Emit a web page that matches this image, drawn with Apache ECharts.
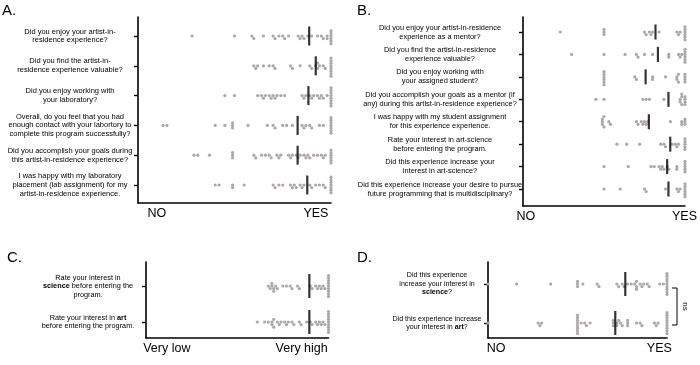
<!DOCTYPE html>
<html><head><meta charset="utf-8">
<script src="https://cdn.jsdelivr.net/npm/echarts@6/dist/echarts.min.js"></script>
<style>html,body{margin:0;padding:0;background:#fff}#c{width:700px;height:365px}</style>
</head><body><div id="c"></div>
<script>
// ---------------- DATA ----------------
const questionsA = [
  "Did you enjoy your artist-in-\nresidence experience?",
  "Did you find the artist-in-\nresidence experience valuable?",
  "Did you enjoy working with\nyour laboratory?",
  "Overall, do you feel that you had\nenough contact with your labortory to\ncomplete this program successfully?",
  "Did you accomplish your goals during\nthis artist-in-residence experience?",
  "I was happy with my laboratory\nplacement (lab assignment) for my\nartist-in-residence experience."
];
const a1 = [28,50,59,60,65,70,71,73,75,76,78,83,84,85,86,88,90,93,95,96,98,98,100,100,100,100,100,100];
const a2 = [60,61,62,65,68,70,71,79,80,84,89,90,92,93,93,94,96,97,100,100,100,100,100,100,100,100];
const a3 = [45,50,62,64,65,66,68,69,70,71,72,74,76,85,86,87,89,90,91,93,94,95,96,98,100,100,100,100,100,100,100,100];
const a4 = [13,15,40,45,49,49,49,57,67,70,71,75,77,80,85,86,87,89,90,94,96,100,100,100,100,100,100,100];
const a5 = [29,31,37,49,49,49,60,61,64,66,68,69,72,73,74,78,79,80,82,83,84,86,87,88,89,91,93,95,96,97,100,100,100,100,100,100];
const a6 = [40,42,49,49,55,70,71,73,75,79,80,81,82,84,85,86,89,90,92,94,96,97,100,100,100,100,100,100,100];
const meansA = [88.7, 92.1, 88.3, 82.7, 82.7, 87.7];
const xTicksA = ["NO", "YES"];

const questionsB = [
  "Did you enjoy your artist-in-residence\nexperience as a mentor?",
  "Did you find the artist-in-residence\nexperience valuable?",
  "Did you enjoy working with\nyour assigned student?",
  "Did you accomplish your goals as a mentor (if\nany) during this artist-in-residence experience?",
  "I was happy with my student assignment\nfor this experience experience.",
  "Rate your interest in art-science\nbefore entering the program.",
  "Did this experience increase your\ninterest in art-science?",
  "Did this experience increase your desire to pursue\nfuture programming that is multidisciplinary?"
];
const b1 = [23,50,50,50,75,76,78,79,80,84,95,96,97,100,100,100,100,100,100];
const b2 = [30,50,63,70,71,75,80,90,90,96,97,98,100,100,100,100,100,100];
const b3 = [50,50,50,50,50,50,69,70,80,80,88,95,95,96,96,100,100,100,100];
const b4 = [45,50,74,76,78,87,97,97,98,98,98,100,100,100,100];
const b5 = [49,49,49,50,50,53,54,70,71,73,74,75,76,77,91,98,98,100,100,100];
const b6 = [58,64,72,85,87,88,92,94,95,96,100,100,100,100,100];
const b7 = [50,65,79,81,84,85,86,87,89,90,95,95,100,100,100,100,100];
const b8 = [50,60,75,76,88,95,96,97,100,100,100,100,100,100];
const meansB = [81.8, 83.3, 75.7, 89.8, 77.7, 90.9, 89.0, 89.8];
const xTicksB = ["NO", "YES"];

const questionsC = [
  "Rate your interest in\n**science** before entering the\nprogram.",
  "Rate your interest in **art**\nbefore entering the program."
];
const c1 = [67,68,69,69,70,70,71,72,75,77,79,80,83,84,90,91,93,94,95,96,97,98,100,100,100,100,100,100,100,100,100];
const c2 = [61,65,67,69,69,70,70,72,73,74,76,77,78,80,81,84,85,88,90,91,93,94,95,96,97,98,100,100,100,100,100,100,100,100,100];
const meansC = [89.5, 89.5];
const xTicksC = ["Very low", "Very high"];

const questionsD = [
  "Did this experience\nincrease your interest in\n**science**?",
  "Did this experience increase\nyour interest in **art**?"
];
const d1 = [0,16,35,50,50,50,53,61,62,72,73,75,76,78,80,82,83,83,83,85,86,87,89,90,96,98,100,100,100,100,100,100,100,100,100];
const d2 = [0,28,29,30,50,50,50,50,50,50,50,50,52,54,55,57,70,70,70,72,72,73,74,75,78,78,78,83,85,86,93,94,95,100,100,100,100,100,100,100,100,100];
const meansD = [76.7, 71.1];
const xTicksD = ["NO", "YES"];
const sigLabelD = "ns";

// ---------------- LAYOUT ----------------
const FONT = "'Liberation Sans', Arial, Helvetica, sans-serif";
const DOT = '#aca6a9';
const panels = [
  {title:'A.', tx:2, ty:3, q:questionsA, rows:[a1,a2,a3,a4,a5,a6], means:meansA, ticks:xTicksA, tickPos:[9.8,92.2],
   grid:{left:138, top:17, width:193, height:186}, rowTop:36, rowStep:29.8, margin:68, fs:7.5, lh:8.8, meanH:19},
  {title:'B.', tx:357, ty:3, q:questionsB, rows:[b1,b2,b3,b4,b5,b6,b7,b8], means:meansB, ticks:xTicksB, tickPos:[1.8,99.7],
   grid:{left:523, top:17, width:162.5, height:189}, rowTop:32, rowStep:22.43, margin:83, fs:7.4, lh:9, meanH:15},
  {title:'C.', tx:7, ty:250, q:questionsC, rows:[c1,c2], means:meansC, ticks:xTicksC, tickPos:[11.4,85.3],
   grid:{left:146, top:262, width:182.5, height:76}, rowTop:286, rowStep:36, margin:58, fs:7.3, lh:8.5, meanH:24},
  {title:'D.', tx:357, ty:250, q:questionsD, rows:[d1,d2], means:meansD, ticks:xTicksD, tickPos:[4.5,95.7],
   grid:{left:488, top:262, width:179, height:76}, rowTop:284, rowStep:39, margin:51, fs:7.1, lh:8.5, meanH:24}
];

function swarm(vals, pxPerX, d) {
  const sorted = vals.slice().sort((a,b)=>a-b);
  const placed = [], out = [];
  for (const v of sorted) {
    const x = v * pxPerX;
    let off = 0;
    for (let i = 0; i < 400; i++) {
      const cand = i === 0 ? 0 : (i % 2 === 1 ? 1 : -1) * Math.ceil(i/2) * d;
      let ok = true;
      for (const p of placed) {
        const dx = p.x - x, dy = p.y - cand;
        if (dx*dx + dy*dy < d*d - 1e-6) { ok = false; break; }
      }
      if (ok) { off = cand; break; }
    }
    placed.push({x, y: off});
    out.push([v, off]);
  }
  return out;
}
function richify(s) { return s.replace(/\*\*(.+?)\*\*/g, '{b|$1}'); }

const grid = [], xAxis = [], yAxis = [], series = [], graphic = [];
panels.forEach((p, gi) => {
  const g = p.grid;
  grid.push({left:g.left, top:g.top, width:g.width, height:g.height, containLabel:false});
  const yMin = -(p.rowTop - g.top) / p.rowStep;
  const yMax = (g.top + g.height - p.rowTop) / p.rowStep;
  const idx = p.q.map((_, i) => i);
  xAxis.push({
    gridIndex: gi, type:'value', min:0, max:100,
    axisLine:{show:true, onZero:false, lineStyle:{color:'#000', width:1.6}},
    axisTick:{show:false}, splitLine:{show:false},
    axisLabel:{customValues:p.tickPos, margin:4, color:'#000', fontSize:12.5, fontFamily:FONT,
      formatter:(v)=>{ let bi=0; p.tickPos.forEach((t,i)=>{ if (Math.abs(t-v) < Math.abs(p.tickPos[bi]-v)) bi=i; }); return p.ticks[bi]; }}
  });
  yAxis.push({
    gridIndex: gi, type:'value', inverse:true, min:yMin, max:yMax,
    axisLine:{show:true, onZero:false, lineStyle:{color:'#000', width:1.6}},
    axisTick:{show:true, customValues:idx, length:4, lineStyle:{color:'#000', width:1.4}},
    splitLine:{show:false},
    axisLabel:{customValues:idx, margin:p.margin, align:'center', verticalAlign:'middle',
      color:'#000', fontSize:p.fs, lineHeight:p.lh, fontFamily:FONT,
      formatter:(v)=>richify(p.q[Math.round(v)]),
      rich:{b:{fontWeight:'bold', fontSize:p.fs, lineHeight:p.lh, fontFamily:FONT, color:'#000'}}}
  });
  const pxPerX = g.width / 100;
  const dots = [];
  p.rows.forEach((vals, ri) => {
    swarm(vals, pxPerX, 2.6).forEach(([v, off]) => dots.push([v, ri + off / p.rowStep]));
  });
  series.push({type:'scatter', xAxisIndex:gi, yAxisIndex:gi, data:dots, symbol:'circle', symbolSize:3.2,
    itemStyle:{color:DOT, opacity:1}, silent:true, z:2, animation:false});
  series.push({type:'scatter', xAxisIndex:gi, yAxisIndex:gi, data:p.means.map((m,i)=>[m,i]),
    symbol:'rect', symbolSize:[2.2, p.meanH], itemStyle:{color:'#000'}, silent:true, z:5, animation:false});
  graphic.push({type:'text', left:p.tx, top:p.ty, style:{text:p.title, fontSize:15, fontFamily:FONT, fill:'#000'}});
});

// significance bracket for panel D (between its two rows)
const pD = panels[3];
const y0 = pD.rowTop + 4, y1 = pD.rowTop + pD.rowStep + 2;
const bx = pD.grid.left + pD.grid.width + 10;
graphic.push({type:'polyline', shape:{points:[[bx-5,y0],[bx,y0],[bx,y1],[bx-5,y1]]}, style:{stroke:'#000', lineWidth:1, fill:null}});
graphic.push({type:'text', x:bx+8, y:(y0+y1)/2, rotation:-Math.PI/2, style:{text:sigLabelD, fontSize:8, fontFamily:FONT, fill:'#000', align:'center', verticalAlign:'middle'}});

const chart = echarts.init(document.getElementById('c'), null, {renderer:'canvas'});
chart.setOption({backgroundColor:'#fff', animation:false, textStyle:{fontFamily:FONT}, grid, xAxis, yAxis, series, graphic});
</script></body></html>
